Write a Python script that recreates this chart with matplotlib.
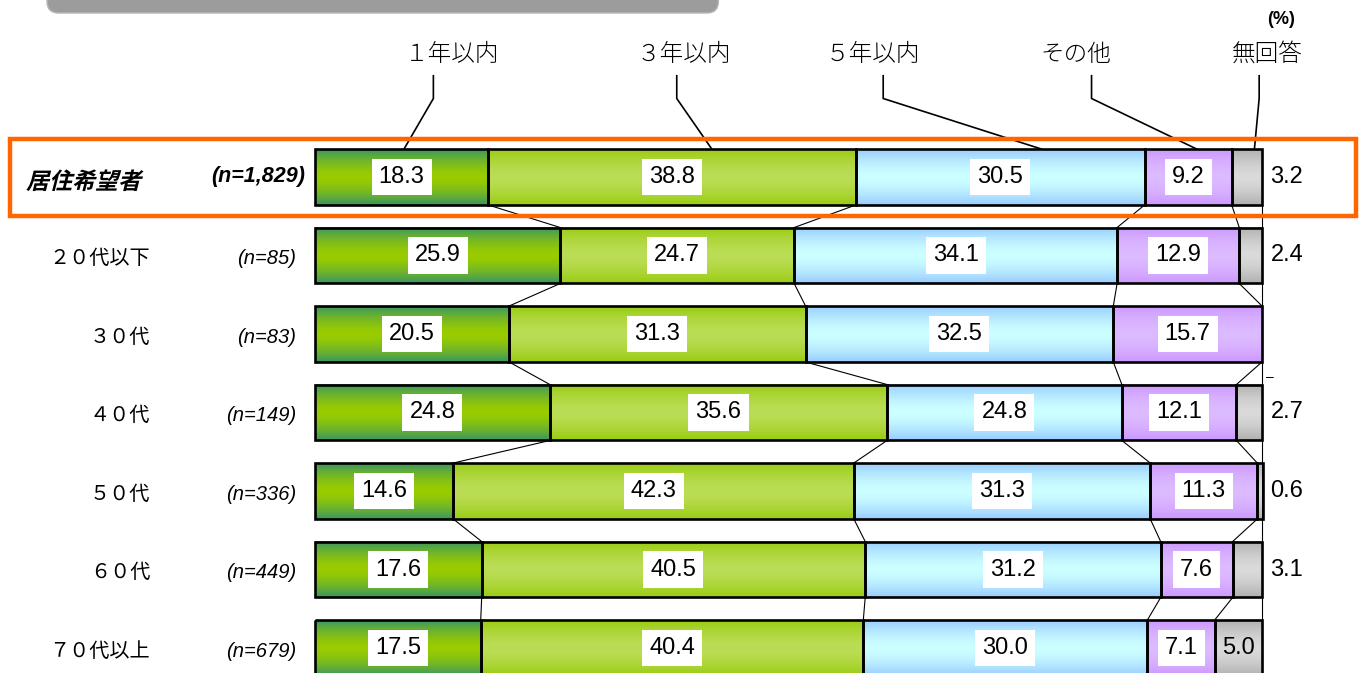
import matplotlib
matplotlib.use('Agg')
import matplotlib.pyplot as plt
import numpy as np
from matplotlib.colors import LinearSegmentedColormap
from matplotlib.patches import Rectangle, FancyBboxPatch, PathPatch
from matplotlib.textpath import TextPath
from matplotlib.font_manager import FontProperties
from matplotlib.transforms import Affine2D

plt.rcParams['font.family'] = ['Liberation Sans', 'Noto Sans CJK JP', 'DejaVu Sans']

# data
groups = ['居住希望者', '２０代以下', '３０代', '４０代', '５０代', '６０代', '７０代以上']
n_labels = ['(n=1,829)', '(n=85)', '(n=83)', '(n=149)', '(n=336)', '(n=449)', '(n=679)']
categories = ['１年以内', '３年以内', '５年以内', 'その他', '無回答']
within_1y = [18.3, 25.9, 20.5, 24.8, 14.6, 17.6, 17.5]
within_3y = [38.8, 24.7, 31.3, 35.6, 42.3, 40.5, 40.4]
within_5y = [30.5, 34.1, 32.5, 24.8, 31.3, 31.2, 30.0]
other = [9.2, 12.9, 15.7, 12.1, 11.3, 7.6, 7.1]
no_answer = [3.2, 2.4, 0.0, 2.7, 0.6, 3.1, 5.0]

series = [within_1y, within_3y, within_5y, other, no_answer]
# (middle colour, edge colour) for the vertical gradients
grad_colors = [('#99cc00', '#3a9660'),
               ('#bbdd55', '#99cc11'),
               ('#ccffff', '#99ccff'),
               ('#ddbbff', '#cc99ff'),
               ('#dadada', '#b0b0b0')]

W, H = 1363, 673
fig = plt.figure(figsize=(W / 100, H / 100), dpi=100)
ax = fig.add_axes([315 / W, 0, 947 / W, 1])

h = 0.713
vals = np.array(series).T          # rows x categories
cum = np.cumsum(vals, axis=1)
starts = cum - vals

grad = np.abs(np.linspace(-1, 1, 80))[:, None] ** 1.6

for i in range(len(groups)):
    for k in range(len(series)):
        v = vals[i, k]
        if v <= 0:
            continue
        cmap = LinearSegmentedColormap.from_list('g%d' % k, grad_colors[k])
        ax.imshow(grad, cmap=cmap, vmin=0, vmax=1, aspect='auto',
                  extent=[starts[i, k], cum[i, k], i + h / 2, i - h / 2],
                  interpolation='bilinear', zorder=1)
        ax.barh(i, v, left=starts[i, k], height=h, facecolor='none',
                edgecolor='black', linewidth=1.9, zorder=3, clip_on=False)
        if k < 4:
            ax.text(starts[i, k] + v / 2, i, '%.1f' % v, ha='center', va='center',
                    fontsize=17, zorder=5,
                    bbox=dict(boxstyle='square,pad=0.3', fc='white', ec='none'))

# 無回答 labels
for i, v in enumerate(no_answer):
    if i == len(groups) - 1:
        ax.text(starts[i, 4] + v / 2, i, '%.1f' % v, ha='center', va='center',
                fontsize=17, zorder=5)
    elif v > 0:
        ax.text(100.9, i, '%.1f' % v, ha='left', va='center', fontsize=17)
ax.text(100.4, 2.55, '–', ha='left', va='center', fontsize=10)

# connector lines between bars
for i in range(len(groups) - 1):
    for k in range(4):
        ax.plot([cum[i, k], cum[i + 1, k]], [i + h / 2, i + 1 - h / 2],
                color='black', lw=0.8, zorder=2, clip_on=False)

# 100% line
ax.plot([100, 100], [-h / 2, len(groups) - 1 + h / 2], color='black', lw=0.8,
        zorder=0, clip_on=False)

# category labels with leader lines
label_x = [14.5, 38.9, 58.9, 80.3, 100.5]
bend_x = [12.5, 38.2, 60.0, 82.0, 99.7]
end_x = [9.4, 41.9, 76.7, 93.1, 99.2]
for k, name in enumerate(categories):
    ax.text(label_x[k], -1.56, name, ha='center', va='center', fontsize=17,
            family=['Noto Sans CJK JP'], weight='light')
    ax.plot([bend_x[k], bend_x[k], end_x[k]], [-1.29, -1.0, -h / 2],
            color='black', lw=1.2, zorder=2, clip_on=False)
ax.text(102.0, -2.0, '(%)', ha='center', va='center', fontsize=13, weight='bold')

# group labels
for i, (g, n) in enumerate(zip(groups, n_labels)):
    if i == 0:
        # bold text with a slant, drawn as a path (CJK font has no italic)
        tp = TextPath((0, 0), g, size=23,
                      prop=FontProperties(family='Noto Sans CJK JP', weight='bold'))
        fig.add_artist(PathPatch(tp, facecolor='black', edgecolor='none',
                                 transform=Affine2D().skew_deg(14, 0).translate(26, H - 189)))
        ax.text(-1.0, i, n, ha='right', va='center', fontsize=15.5,
                weight='bold', style='italic')
    else:
        ax.text(-17.4, i + 0.04, g, ha='right', va='center', fontsize=14.5,
                family=['Noto Sans CJK JP'])
        ax.text(-2.0, i + 0.04, n, ha='right', va='center', fontsize=14.5,
                style='italic')

# highlight box
ax.add_patch(Rectangle((-32.2, -0.484), 142.1, 0.981, fill=False,
                       edgecolor='#ff6600', linewidth=3.2, clip_on=False, zorder=6))

# cropped title bar at the top
ax.add_patch(FancyBboxPatch((-28.3, -2.5), 70.9, 2.5 - 2.089,
                            boxstyle='round,pad=0,rounding_size=1.2',
                            mutation_aspect=0.12, facecolor='#9c9c9c',
                            edgecolor='#b8b8b8', linewidth=1, clip_on=False))

ax.set_xlim(0, 100)
ax.set_ylim((H - 177) / 78.5, -177 / 78.5)
ax.axis('off')

fig.savefig('out.png', dpi=100)
